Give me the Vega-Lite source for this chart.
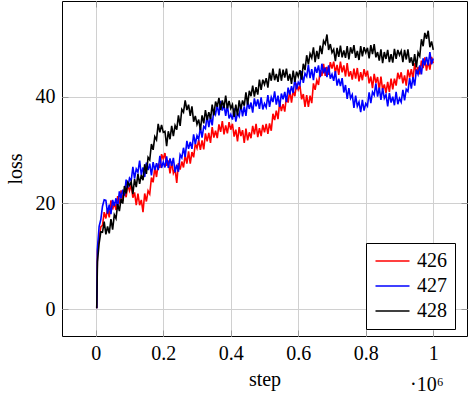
{
"$schema":"https://vega.github.io/schema/vega-lite/v6.json",
"width":405,"height":335,
"autosize":{"type":"none"},
"padding":{"left":62,"top":1,"right":2,"bottom":60},
"background":"white",
"config":{
"view":{"stroke":"#000","strokeWidth":1},
"font":"Liberation Serif",
"axis":{"grid":true,"gridColor":"#d0d0d0","gridWidth":1,"domain":false,"ticks":true,"tickSize":-6,"tickColor":"#999","tickWidth":1,"labelFont":"Liberation Serif","labelFontSize":20,"labelColor":"#000","titleFont":"Liberation Serif","titleFontSize":20,"titleFontWeight":"normal","titleColor":"#000"}
},
"resolve":{"axis":{"x":"independent","y":"independent"}},
"layer":[
{"data":{"values":[
{"s":0.003,"426":0.2,"427":0.2,"428":0.2},
{"s":0.005,"426":11,"427":11.5,"428":9},
{"s":0.010,"426":13.5,"427":15.6,"428":12.4},
{"s":0.015,"426":15.5,"427":16.9,"428":14.6},
{"s":0.020,"426":15.8,"427":19.4,"428":14.5},
{"s":0.025,"426":18.3,"427":20.6,"428":16.5},
{"s":0.030,"426":17.1,"427":20.5,"428":14.1},
{"s":0.035,"426":18.9,"427":18.0,"428":15.6},
{"s":0.040,"426":17.3,"427":19.7,"428":14.3},
{"s":0.045,"426":20.5,"427":17.9,"428":17.0},
{"s":0.050,"426":18.8,"427":20.6,"428":15.0},
{"s":0.055,"426":20.1,"427":19.5,"428":17.8},
{"s":0.060,"426":18.7,"427":20.9,"428":17.1},
{"s":0.065,"426":21.3,"427":19.2,"428":19.8},
{"s":0.070,"426":19.9,"427":22.2,"428":18.5},
{"s":0.075,"426":22.4,"427":20.9,"428":20.8},
{"s":0.080,"426":20.4,"427":22.5,"428":19.9},
{"s":0.085,"426":22.4,"427":21.4,"428":23.2},
{"s":0.090,"426":21.1,"427":24.4,"428":21.8},
{"s":0.095,"426":23.5,"427":22.9,"428":23.9},
{"s":0.100,"426":22.3,"427":24.7,"428":23.3},
{"s":0.105,"426":23.4,"427":24.2,"428":24.0},
{"s":0.110,"426":21.0,"427":26.8,"428":21.7},
{"s":0.115,"426":22.0,"427":24.6,"428":24.5},
{"s":0.120,"426":19.6,"427":26.4,"428":23.0},
{"s":0.125,"426":21.8,"427":25.8,"428":25.5},
{"s":0.130,"426":19.6,"427":28.0,"428":23.6},
{"s":0.135,"426":20.6,"427":25.3,"428":25.3},
{"s":0.140,"426":18.3,"427":26.7,"428":24.3},
{"s":0.145,"426":21.8,"427":24.9,"428":27.3},
{"s":0.150,"426":20.3,"427":27.6,"428":25.5},
{"s":0.155,"426":22.3,"427":26.2,"428":28.6},
{"s":0.160,"426":21.7,"427":27.4,"428":28.1},
{"s":0.165,"426":24.8,"427":25.2,"428":31.1},
{"s":0.170,"426":23.9,"427":27.7,"428":30.0},
{"s":0.175,"426":26.7,"427":26.2,"428":32.5},
{"s":0.180,"426":24.9,"427":27.5,"428":31.9},
{"s":0.185,"426":27.4,"427":26.2,"428":34.9},
{"s":0.190,"426":26.6,"427":28.9,"428":33.3},
{"s":0.195,"426":29.2,"427":26.6,"428":34.7},
{"s":0.200,"426":28.3,"427":27.7,"428":33.3},
{"s":0.205,"426":29.4,"427":26.7,"428":33.5},
{"s":0.210,"426":27.0,"427":28.8,"428":30.7},
{"s":0.215,"426":28.0,"427":26.6,"428":33.5},
{"s":0.220,"426":25.6,"427":28.4,"428":32.0},
{"s":0.225,"426":27.8,"427":27.0,"428":34.5},
{"s":0.230,"426":25.6,"427":28.5,"428":32.6},
{"s":0.235,"426":26.4,"427":25.8,"428":34.6},
{"s":0.240,"426":23.8,"427":27.2,"428":33.8},
{"s":0.245,"426":27.5,"427":25.9,"428":36.5},
{"s":0.250,"426":26.3,"427":29.1,"428":34.5},
{"s":0.255,"426":27.8,"427":28.5,"428":37.6},
{"s":0.260,"426":26.7,"427":30.4,"428":37.1},
{"s":0.265,"426":29.0,"427":28.7,"428":39.3},
{"s":0.270,"426":27.4,"427":31.7,"428":37.5},
{"s":0.275,"426":29.7,"427":30.2,"428":38.5},
{"s":0.280,"426":27.4,"427":31.5,"428":36.4},
{"s":0.285,"426":29.6,"427":30.2,"428":38.2},
{"s":0.290,"426":28.6,"427":32.9,"428":35.3},
{"s":0.295,"426":31.2,"427":31.1,"428":36.4},
{"s":0.300,"426":30.3,"427":32.7,"428":34.8},
{"s":0.305,"426":31.9,"427":32.0,"428":35.7},
{"s":0.310,"426":30.0,"427":34.3,"428":33.7},
{"s":0.315,"426":31.8,"427":32.3,"428":36.5},
{"s":0.320,"426":30.1,"427":34.4,"428":35.0},
{"s":0.325,"426":33.1,"427":34.0,"428":37.5},
{"s":0.330,"426":31.6,"427":36.5,"428":35.6},
{"s":0.335,"426":33.2,"427":34.3,"428":37.1},
{"s":0.340,"426":31.3,"427":36.2,"428":35.8},
{"s":0.345,"426":34.3,"427":34.6,"428":38.5},
{"s":0.350,"426":32.3,"427":37.6,"428":36.5},
{"s":0.355,"426":33.6,"427":36.7,"428":39.1},
{"s":0.360,"426":32.2,"427":38.4,"428":38.1},
{"s":0.365,"426":34.8,"427":36.5,"428":39.8},
{"s":0.370,"426":33.4,"427":39.2,"428":37.5},
{"s":0.375,"426":35.4,"427":37.4,"428":39.3},
{"s":0.380,"426":32.9,"427":38.5,"428":37.9},
{"s":0.385,"426":34.6,"427":36.4,"428":40.2},
{"s":0.390,"426":33.1,"427":38.4,"428":37.8},
{"s":0.395,"426":35.2,"427":35.9,"428":39.2},
{"s":0.400,"426":33.8,"427":36.7,"428":37.8},
{"s":0.405,"426":34.9,"427":35.7,"428":38.5},
{"s":0.410,"426":32.5,"427":37.8,"428":36.2},
{"s":0.415,"426":33.8,"427":35.3,"428":38.5},
{"s":0.420,"426":31.6,"427":36.9,"428":36.5},
{"s":0.425,"426":34.3,"427":36.3,"428":39.3},
{"s":0.430,"426":32.6,"427":38.5,"428":37.6},
{"s":0.435,"426":33.7,"427":36.3,"428":39.3},
{"s":0.440,"426":31.3,"427":38.2,"428":38.3},
{"s":0.445,"426":34.0,"427":36.4,"428":40.8},
{"s":0.450,"426":31.8,"427":39.1,"428":38.5},
{"s":0.455,"426":33.3,"427":37.7,"428":41.1},
{"s":0.460,"426":32.2,"427":38.9,"428":40.1},
{"s":0.465,"426":34.5,"427":37.0,"428":42.1},
{"s":0.470,"426":32.9,"427":39.7,"428":40.0},
{"s":0.475,"426":34.9,"427":38.2,"428":41.8},
{"s":0.480,"426":32.4,"427":39.5,"428":40.4},
{"s":0.485,"426":34.1,"427":37.7,"428":43.2},
{"s":0.490,"426":32.6,"427":39.9,"428":41.3},
{"s":0.495,"426":34.7,"427":37.6,"428":43.2},
{"s":0.500,"426":33.3,"427":38.7,"428":42.3},
{"s":0.505,"426":34.9,"427":38.0,"428":43.5},
{"s":0.510,"426":33.0,"427":40.3,"428":41.7},
{"s":0.515,"426":35.0,"427":38.1,"428":44.5},
{"s":0.520,"426":33.6,"427":39.9,"428":43.0},
{"s":0.525,"426":36.8,"427":39.0,"428":45.3},
{"s":0.530,"426":35.6,"427":41.0,"428":43.1},
{"s":0.535,"426":37.4,"427":38.5,"428":44.3},
{"s":0.540,"426":35.8,"427":40.2,"428":42.8},
{"s":0.545,"426":39.0,"427":38.1,"428":45.3},
{"s":0.550,"426":37.3,"427":40.6,"428":43.0},
{"s":0.555,"426":38.6,"427":39.5,"428":45.1},
{"s":0.560,"426":37.2,"427":40.9,"428":43.6},
{"s":0.565,"426":40.0,"427":39.0,"428":45.3},
{"s":0.570,"426":38.9,"427":41.7,"428":43.0},
{"s":0.575,"426":41.2,"427":40.4,"428":44.3},
{"s":0.580,"426":38.9,"427":42.0,"428":42.4},
{"s":0.585,"426":41.1,"427":40.7,"428":44.9},
{"s":0.590,"426":40.1,"427":43.4,"428":42.8},
{"s":0.595,"426":42.5,"427":41.4,"428":44.7},
{"s":0.600,"426":41.3,"427":42.7,"428":43.8},
{"s":0.605,"426":42.1,"427":42.2,"428":45.0},
{"s":0.610,"426":39.5,"427":44.8,"428":43.2},
{"s":0.615,"426":40.5,"427":42.6,"428":46.2},
{"s":0.620,"426":38.1,"427":44.4,"428":45.0},
{"s":0.625,"426":40.3,"427":43.8,"428":47.8},
{"s":0.630,"426":38.1,"427":46.0,"428":46.1},
{"s":0.635,"426":40.2,"427":43.5,"428":48.1},
{"s":0.640,"426":38.8,"427":45.2,"428":47.3},
{"s":0.645,"426":42.5,"427":43.1,"428":49.3},
{"s":0.650,"426":41.3,"427":45.6,"428":46.5},
{"s":0.655,"426":43.1,"427":44.5,"428":48.6},
{"s":0.660,"426":42.2,"427":45.9,"428":47.1},
{"s":0.665,"426":45.0,"427":43.7,"428":49.6},
{"s":0.670,"426":43.9,"427":46.2,"428":48.0},
{"s":0.675,"426":46.2,"427":44.4,"428":50.5},
{"s":0.680,"426":43.9,"427":45.5,"428":49.9},
{"s":0.685,"426":45.6,"427":43.7,"428":51.7},
{"s":0.690,"426":44.1,"427":45.9,"428":48.8},
{"s":0.695,"426":46.5,"427":43.4,"428":49.9},
{"s":0.700,"426":45.3,"427":44.2,"428":48.3},
{"s":0.705,"426":46.6,"427":43.0,"428":48.9},
{"s":0.710,"426":44.5,"427":44.8,"428":46.7},
{"s":0.715,"426":46.0,"427":42.1,"428":49.2},
{"s":0.720,"426":44.1,"427":43.4,"428":47.5},
{"s":0.725,"426":46.6,"427":42.0,"428":49.6},
{"s":0.730,"426":44.6,"427":43.5,"428":47.4},
{"s":0.735,"426":45.9,"427":40.8,"428":48.7},
{"s":0.740,"426":43.8,"427":42.2,"428":47.3},
{"s":0.745,"426":46.3,"427":39.6,"428":49.5},
{"s":0.750,"426":43.8,"427":41.6,"428":47.0},
{"s":0.755,"426":44.8,"427":39.7,"428":49.3},
{"s":0.760,"426":43.2,"427":40.4,"428":48.1},
{"s":0.765,"426":45.3,"427":37.9,"428":49.7},
{"s":0.770,"426":43.4,"427":40.2,"428":47.3},
{"s":0.775,"426":45.4,"427":38.2,"428":48.6},
{"s":0.780,"426":42.9,"427":39.0,"428":46.9},
{"s":0.785,"426":44.6,"427":37.1,"428":49.5},
{"s":0.790,"426":43.1,"427":39.4,"428":47.6},
{"s":0.795,"426":45.2,"427":37.4,"428":49.3},
{"s":0.800,"426":43.8,"427":38.7,"428":48.3},
{"s":0.805,"426":44.9,"427":38.2,"428":49.2},
{"s":0.810,"426":42.5,"427":40.8,"428":47.2},
{"s":0.815,"426":43.8,"427":38.8,"428":49.7},
{"s":0.820,"426":41.6,"427":40.9,"428":48.0},
{"s":0.825,"426":44.3,"427":40.3,"428":49.9},
{"s":0.830,"426":42.6,"427":42.5,"428":47.4},
{"s":0.835,"426":43.7,"427":40.0,"428":48.4},
{"s":0.840,"426":41.3,"427":41.7,"428":46.8},
{"s":0.845,"426":43.8,"427":39.4,"428":48.9},
{"s":0.850,"426":41.3,"427":41.6,"428":46.3},
{"s":0.855,"426":42.3,"427":39.7,"428":48.4},
{"s":0.860,"426":40.7,"427":40.4,"428":47.1},
{"s":0.865,"426":42.8,"427":38.2,"428":48.8},
{"s":0.870,"426":40.9,"427":40.7,"428":46.5},
{"s":0.875,"426":43.4,"427":38.9,"428":48.0},
{"s":0.880,"426":41.4,"427":40.0,"428":46.4},
{"s":0.885,"426":43.4,"427":38.4,"428":49.0},
{"s":0.890,"426":42.1,"427":40.9,"428":47.1},
{"s":0.895,"426":44.5,"427":38.6,"428":48.8},
{"s":0.900,"426":43.3,"427":39.7,"428":47.8},
{"s":0.905,"426":44.6,"427":39.0,"428":48.6},
{"s":0.910,"426":42.5,"427":41.3,"428":46.5},
{"s":0.915,"426":44.0,"427":39.3,"428":48.8},
{"s":0.920,"426":42.1,"427":41.4,"428":47.0},
{"s":0.925,"426":45.1,"427":41.0,"428":48.9},
{"s":0.930,"426":43.6,"427":43.5,"428":46.4},
{"s":0.935,"426":45.2,"427":41.5,"428":47.4},
{"s":0.940,"426":43.3,"427":43.7,"428":45.8},
{"s":0.945,"426":46.3,"427":42.1,"428":48.0},
{"s":0.950,"426":44.3,"427":45.1,"428":45.5},
{"s":0.955,"426":45.6,"427":44.2,"428":48.3},
{"s":0.960,"426":44.2,"427":45.9,"428":47.6},
{"s":0.965,"426":46.8,"427":44.2,"428":50.8},
{"s":0.970,"426":45.4,"427":47.2,"428":49.5},
{"s":0.975,"426":47.4,"427":45.9,"428":52.0},
{"s":0.980,"426":44.9,"427":47.5,"428":50.9},
{"s":0.985,"426":46.6,"427":45.9,"428":52.4},
{"s":0.990,"426":45.1,"427":48.4,"428":49.3},
{"s":0.995,"426":47.5,"427":46.1,"428":50.4},
{"s":1.000,"426":46.3,"427":47.2,"428":48.8}
]},
"transform":[{"fold":["426","427","428"],"as":["run","loss"]}],
"mark":{"type":"line","strokeWidth":1.6,"clip":true},
"encoding":{
"x":{"field":"s","type":"quantitative","scale":{"domain":[-0.1,1.1],"nice":false,"zero":false},"axis":{"values":[0,0.2,0.4,0.6,0.8,1],"format":"~g","title":"step","labelPadding":13,"titlePadding":6}},
"y":{"field":"loss","type":"quantitative","scale":{"domain":[-5,58],"nice":false},"axis":{"values":[0,20,40],"title":"loss","labelPadding":13,"titlePadding":10}},
"color":{"field":"run","type":"nominal","scale":{"domain":["426","427","428"],"range":["#ff0000","#0000ff","#000000"]},
"legend":{"title":null,"orient":"none","legendX":304,"legendY":242,"strokeColor":"#000","fillColor":"#fff","padding":8,"symbolType":"M-1,0H3","symbolSize":289,"symbolStrokeWidth":1.5,"labelFontSize":20,"labelFont":"Liberation Serif","labelColor":"#000","labelOffset":23,"rowPadding":5,"cornerRadius":0}}
}},
{"data":{"values":[{"t":"·10⁶"}]},
"mark":{"type":"text","fontSize":20,"font":"Liberation Serif","align":"center","baseline":"middle","color":"#000"},
"encoding":{
"x":{"datum":0.981,"type":"quantitative","axis":{"orient":"top","values":[0,0.2,0.4,0.6,0.8,1],"labels":false,"grid":false,"title":null}},
"y":{"datum":-14.3,"type":"quantitative","axis":{"orient":"right","values":[0,20,40],"labels":false,"grid":false,"title":null}},
"text":{"field":"t"}}}
]
}
